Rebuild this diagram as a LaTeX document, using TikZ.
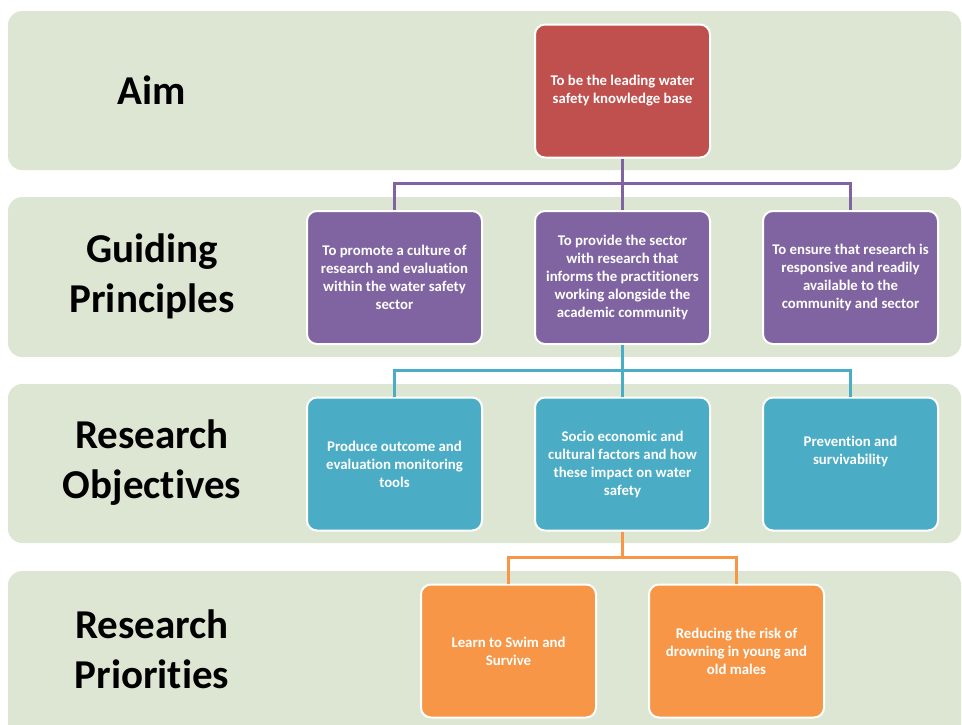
\documentclass[tikz,border=0pt]{standalone}
\usepackage{fontspec}
\setmainfont{Carlito}[Ligatures=NoCommon]
\definecolor{bandgreen}{RGB}{221,230,211}
\definecolor{aimred}{RGB}{192,80,77}
\definecolor{guidepurple}{RGB}{128,100,162}
\definecolor{objteal}{RGB}{75,172,198}
\definecolor{priorange}{RGB}{247,150,70}
\begin{document}
\begin{tikzpicture}[x=1pt,y=-1pt,
    band/.style={fill=bandgreen,rounded corners=14pt},
    level/.style={font=\fontsize{41}{50}\selectfont\bfseries,align=center},
    box/.style={rounded corners=10pt,draw=white,line width=2pt,minimum width=175pt,
        minimum height=133pt,align=center,text=white,font=\fontsize{14.8}{18}\selectfont\bfseries},
    aimbox/.style={box,fill=aimred},
    principle/.style={box,fill=guidepurple},
    objective/.style={box,fill=objteal},
    priority/.style={box,fill=priorange},
    link/.style={line width=3pt}]
    \useasboundingbox (0,0) rectangle (962,724);
    \fill[band] (8,11) rectangle (961,170);
    \fill[band] (8,197) rectangle (961,357);
    \fill[band] (8,384) rectangle (961,543);
    \fill[band] (8,571) rectangle (961,748);

    \node[level] (aim) at (152,90) {Aim};
    \node[level] (guiding) at (152,276) {Guiding\\Principles};
    \node[level] (objectives) at (152,463) {Research\\Objectives};
    \node[level] (priorities) at (152,649) {Research\\Priorities};

    \node[aimbox] (lead) at (622.5,91) {To be the leading water\\safety knowledge base};
    \node[principle] (culture) at (394.5,277.5) {To promote a culture of\\research and evaluation\\within the water safety\\sector};
    \node[principle] (provide) at (622.5,277.5) {To provide the sector\\with research that\\informs the practitioners\\working alongside the\\academic community};
    \node[principle] (ensure) at (850.5,277.5) {To ensure that research is\\responsive and readily\\available to the\\community and sector};
    \node[objective] (tools) at (394.5,464) {Produce outcome and\\evaluation monitoring\\tools};
    \node[objective] (socio) at (622.5,464) {Socio economic and\\cultural factors and how\\these impact on water\\safety};
    \node[objective] (prevent) at (850.5,464) {Prevention and\\survivability\\[10pt]};
    \node[priority] (swim) at (508.5,651) {Learn to Swim and\\Survive};
    \node[priority] (drowning) at (736.5,651) {Reducing the risk of\\drowning in young and\\old males};

    \coordinate (pbar) at (622.5,183);
    \coordinate (tbar) at (622.5,370);
    \coordinate (obar) at (622.5,557);
    \draw[link,guidepurple] (lead.south) -- (provide.north);
    \draw[link,guidepurple] (culture.north) -- (culture.north |- pbar) -- (ensure.north |- pbar) -- (ensure.north);
    \draw[link,objteal] (provide.south) -- (socio.north);
    \draw[link,objteal] (tools.north) -- (tools.north |- tbar) -- (prevent.north |- tbar) -- (prevent.north);
    \draw[link,priorange] (socio.south) -- (obar);
    \draw[link,priorange] (swim.north) -- (swim.north |- obar) -- (drowning.north |- obar) -- (drowning.north);
\end{tikzpicture}
\end{document}
